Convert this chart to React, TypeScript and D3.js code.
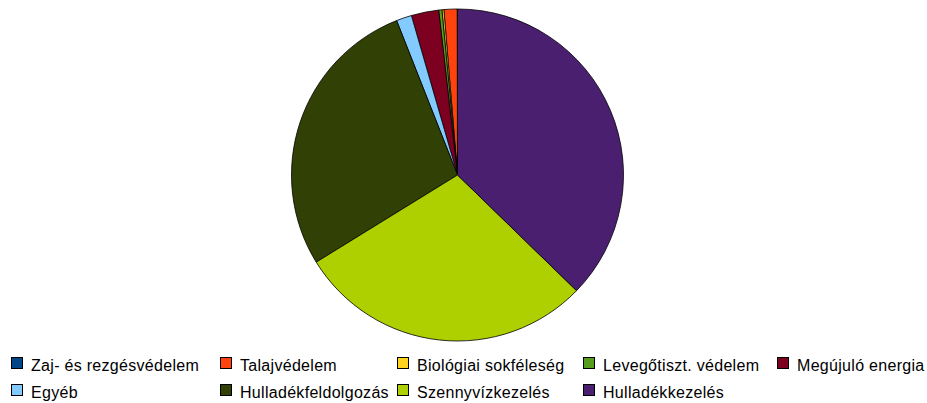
import React from "react";
import * as d3 from "d3";

const categories = [
  "Zaj- és rezgésvédelem",
  "Talajvédelem",
  "Biológiai sokféleség",
  "Levegőtiszt. védelem",
  "Megújuló energia",
  "Egyéb",
  "Hulladékfeldolgozás",
  "Szennyvízkezelés",
  "Hulladékkezelés",
];
const values = [0.03, 1.28, 0.19, 0.31, 2.67, 1.5, 27.83, 28.94, 37.28];
const colors = [
  "#004586",
  "#ff420e",
  "#ffd320",
  "#579d1c",
  "#7e0021",
  "#83caff",
  "#314004",
  "#aecf00",
  "#4b1f6f",
];

const W = 927;
const H = 403;
const cx = 457.5;
const cy = 175;
const R = 166;

const legendCols = [11, 220, 397, 583, 777];
const legendRows = [357, 384];

export default function App() {
  const pie = d3
    .pie<number>()
    .sort(null)
    .value((d) => d)
    .startAngle(0)
    .endAngle(-2 * Math.PI);
  const arcs = pie(values);
  const arc = d3.arc<d3.PieArcDatum<number>>().innerRadius(0).outerRadius(R);

  return (
    <svg
      width={W}
      height={H}
      style={{ position: "absolute", left: 0, top: 0, background: "#fff" }}
      fontFamily="'Liberation Sans', Arial, sans-serif"
    >
      <g transform={`translate(${cx},${cy})`}>
        {arcs.map((a, i) => (
          <path
            key={categories[i]}
            d={arc(a) || ""}
            fill={colors[i]}
            stroke="#000"
            strokeWidth={0.8}
            strokeLinejoin="round"
          />
        ))}
      </g>
      {categories.map((c, i) => {
        const x = legendCols[i % 5];
        const y = legendRows[Math.floor(i / 5)];
        return (
          <g key={c} transform={`translate(${x},${y})`}>
            <rect
              x={0.5}
              y={0.5}
              width={11}
              height={11}
              fill={colors[i]}
              stroke="#000"
              strokeWidth={1}
            />
            <text x={20} y={14} fontSize={16} letterSpacing={0.3} fill="#000">
              {c}
            </text>
          </g>
        );
      })}
    </svg>
  );
}
